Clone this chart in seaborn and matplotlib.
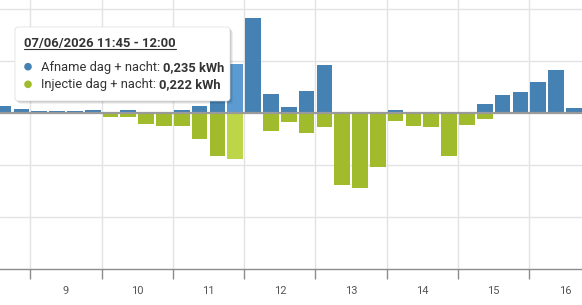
import numpy as np
import pandas as pd
import seaborn as sns
import matplotlib
matplotlib.use('Agg')
from matplotlib import pyplot as plt
from matplotlib.patches import FancyBboxPatch, Circle
from matplotlib.lines import Line2D
from matplotlib.transforms import IdentityTransform

# quarter-hour slots, values in kWh
slots = ['08:30', '08:45', '09:00', '09:15', '09:30', '09:45', '10:00', '10:15',
         '10:30', '10:45', '11:00', '11:15', '11:30', '11:45', '12:00', '12:15',
         '12:30', '12:45', '13:00', '13:15', '13:30', '13:45', '14:00', '14:15',
         '14:30', '14:45', '15:00', '15:15', '15:30', '15:45', '16:00', '16:15',
         '16:30']
afname = [0.034, 0.020, 0.010, 0.010, 0.010, 0.014, 0.0, 0.014,
          0.0, 0.0, 0.014, 0.033, 0.150, 0.235, 0.455, 0.090,
          0.027, 0.106, 0.229, 0.0, 0.0, 0.0, 0.014, 0.0,
          0.0, 0.0, 0.0, 0.045, 0.085, 0.100, 0.148, 0.205,
          0.024]
injectie = [0.0, 0.0, 0.0, 0.0, 0.0, 0.007, 0.018, 0.018,
            0.051, 0.061, 0.061, 0.123, 0.205, 0.222, 0.0, 0.088,
            0.042, 0.095, 0.066, 0.345, 0.359, 0.258, 0.037, 0.061,
            0.066, 0.205, 0.056, 0.027, 0.0, 0.0, 0.0, 0.0,
            0.0]
hour_labels = ['9', '10', '11', '12', '13', '14', '15', '16']
highlight = '11:45'
tooltip_title = '07/06/2026 11:45 - 12:00'
tooltip_rows = [('Afname dag + nacht: ', '0,235 kWh'),
                ('Injectie dag + nacht: ', '0,222 kWh')]

blue, blue_hi = '#4581b3', '#5c9bd1'
green, green_hi = '#a0bb2b', '#bcd647'

sns.set_style('white')
plt.rcParams['font.family'] = ['Roboto', 'DejaVu Sans']

# slot centre in decimal hours
x = [int(s[:2]) + int(s[3:]) / 60 + 0.125 for s in slots]
df = pd.DataFrame({'x': x, 'afname': afname, 'injectie': -np.array(injectie)})

fig = plt.figure(figsize=(5.82, 3.05), dpi=100)
ax = fig.add_axes([0, 36 / 305, 1, 269 / 305])

sns.barplot(data=df, x='x', y='afname', native_scale=True, width=0.88,
            color=blue, saturation=1, ax=ax, zorder=2)
sns.barplot(data=df, x='x', y='injectie', native_scale=True, width=0.88,
            color=green, saturation=1, ax=ax, zorder=2)

# highlighted slot (hovered)
hi_x = x[slots.index(highlight)]
for p in ax.patches:
    cx = p.get_x() + p.get_width() / 2
    if abs(cx - hi_x) < 0.01:
        p.set_facecolor(blue_hi if p.get_height() > 0 else green_hi)
    p.set_edgecolor('none')

ax.set_xlim(8.575, 16.739)
ax.set_ylim(-0.75, 0.5433)
ax.set_yticks([-0.5, -0.25, 0.25, 0.5])
ax.set_yticklabels([])
ax.tick_params(axis='y', length=0, left=False)
ax.grid(True, color='#e3e3e3', lw=1, zorder=0)
ax.set_axisbelow(True)
ax.axhline(0, color='#9a9a9a', lw=1.6, zorder=3)

hours = np.arange(9, 17)
ax.set_xticks(hours)
ax.set_xticklabels([])
ax.set_xticks(hours + 0.5, minor=True)
ax.set_xticklabels(hour_labels, minor=True, fontsize=8, color='#555555')
ax.tick_params(axis='x', which='major', bottom=True, length=7, width=1,
               color='#8c8c8c', direction='out')
ax.tick_params(axis='x', which='minor', bottom=False, length=0, pad=12)
ax.set_xlabel('')
ax.set_ylabel('')
for s in ['top', 'left', 'right']:
    ax.spines[s].set_visible(False)
ax.spines['bottom'].set_color('#8c8c8c')
ax.spines['bottom'].set_linewidth(1)

# tooltip (display pixels, origin bottom-left)
H = 305
tr = IdentityTransform()
for off, a in [(3, 0.06), (2, 0.08), (1, 0.10)]:
    fig.add_artist(FancyBboxPatch((15 + off, H - 101 - off), 215, 74,
                                  boxstyle='round,pad=0,rounding_size=3',
                                  fc='black', ec='none', alpha=a, transform=tr))
fig.add_artist(FancyBboxPatch((15, H - 101), 215, 74,
                              boxstyle='round,pad=0,rounding_size=3',
                              fc='white', ec='#dddddd', lw=0.5, transform=tr))
title = fig.text(24, H - 46.7, tooltip_title, transform=tr, fontsize=9.4,
                 fontweight='bold', color='#333333', va='baseline')
fig.canvas.draw()
r = fig.canvas.get_renderer()
bb = title.get_window_extent(r)
fig.add_artist(Line2D([bb.x0, bb.x1], [H - 48.8, H - 48.8], color='#333333',
                      lw=0.8, transform=tr))

for (lab, val), yb, col in zip(tooltip_rows, [70.7, 88.3], [blue, green]):
    fig.add_artist(Circle((28, H - yb + 4), 3.8, fc=col, ec='none', transform=tr))
    t = fig.text(40.7, H - yb, lab, transform=tr, fontsize=9.3, color='#333333',
                 va='baseline')
    fig.canvas.draw()
    e = t.get_window_extent(r)
    fig.text(e.x1, H - yb, val, transform=tr, fontsize=9.3, fontweight='bold',
             color='#333333', va='baseline')

fig.savefig('out.png', dpi=100)
